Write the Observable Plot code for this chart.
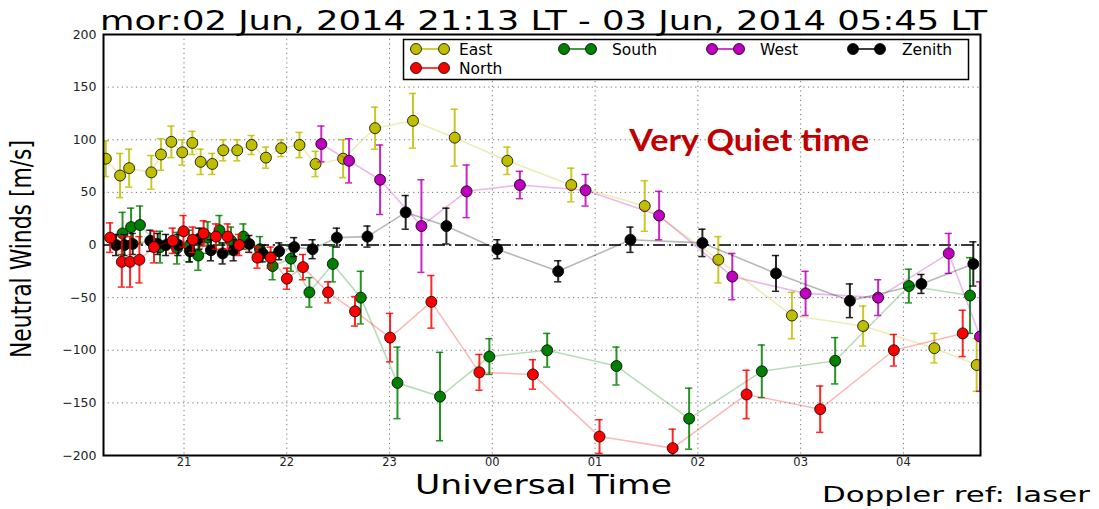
<!DOCTYPE html>
<html>
<head>
<meta charset="utf-8">
<script src="https://cdn.jsdelivr.net/npm/d3@7"></script>
<script src="https://cdn.jsdelivr.net/npm/@observablehq/plot@0.6"></script>
<style>
  html, body { margin: 0; padding: 0; background: #fff; }
  #wrap { position: relative; width: 1099px; height: 509px; overflow: hidden; font-family: "DejaVu Sans", sans-serif; color: #000; background: #fff; }
  #chart { position: absolute; left: 0; top: 0; }
  .lbl { position: absolute; white-space: nowrap; line-height: 0.8; transform-origin: 0 0; }
  #legend { position: absolute; left: 0; top: 0; }
</style>
</head>
<body>
<div id="wrap">
  <div id="chart"></div>
  <svg id="legend" width="1099" height="509"></svg>
  <div class="lbl" id="title">mor:02 Jun, 2014 21:13 LT - 03 Jun, 2014 05:45 LT</div>
  <div class="lbl" id="ylabel">Neutral Winds [m/s]</div>
  <div class="lbl" id="xlabel">Universal Time</div>
  <div class="lbl" id="caption">Doppler ref: laser</div>
</div>
<script>
// ---------- data (UT hours; values after midnight continue past 24) ----------
const seriesNames  = ["East", "South", "West", "Zenith", "North"];
const seriesColors = ["#bfbf00", "#008000", "#bf00bf", "#000000", "#ff0000"];

const eastT = [20.239, 20.378, 20.466, 20.682, 20.776, 20.877, 20.983, 21.081, 21.162, 21.275, 21.382, 21.518, 21.658, 21.797, 21.946, 22.124, 22.280, 22.548, 22.859, 23.228, 23.634, 24.146, 24.768, 25.483, 26.199, 26.915, 27.608, 28.301, 28.713];
const eastV = [82, 66, 73, 69, 86, 98, 88, 97, 79, 77, 90, 90, 95, 83, 92, 95, 77, 82, 111, 118, 102, 80, 57, 37, -14, -67, -77, -98, -114];
const eastE = [17, 21, 18, 16, 15, 15, 12, 11, 12, 10, 10, 10, 9, 10, 8, 12, 12, 18, 20, 26, 27, 13, 16, 24, 22, 22, 19, 14, 25];

const southT = [20.402, 20.485, 20.572, 20.767, 20.932, 21.049, 21.139, 21.230, 21.345, 21.457, 21.578, 21.739, 21.862, 22.040, 22.220, 22.448, 22.720, 23.077, 23.491, 23.971, 24.534, 25.208, 25.915, 26.622, 27.336, 28.053, 28.648];
const southV = [11, 17, 19, -2, -3, -1, -10, 7, 14, 4, 8, -4, -20, -13, -45, -18, -50, -131, -144, -106, -100, -115, -165, -120, -110, -39, -48];
const southE = [20, 18, 18, 15, 15, 15, 14, 15, 14, 13, 12, 12, 13, 12, 14, 17, 25, 34, 42, 17, 16, 18, 29, 25, 22, 16, 36];

const westT = [22.336, 22.606, 22.908, 23.310, 23.750, 24.268, 24.907, 25.623, 26.335, 27.048, 27.754, 28.441, 28.745];
const westV = [96, 80, 62, 18, 51, 57, 52, 28, -30, -46, -50, -8, -87];
const westE = [17, 21, 33, 44, 25, 13, 15, 23, 22, 21, 17, 19, 52];

const zenithT = [20.339, 20.420, 20.501, 20.672, 20.744, 20.825, 20.945, 21.058, 21.149, 21.262, 21.376, 21.483, 21.635, 21.765, 21.926, 22.072, 22.251, 22.487, 22.785, 23.157, 23.553, 24.049, 24.641, 25.344, 26.044, 26.760, 27.479, 28.175, 28.680];
const zenithV = [0, 0, 1, 4, 1, 0, 0, -6, 6, -5, -8, -5, 1, -8, -6, -2, -4, 7, 8, 31, 18, -4, -25, 5, 2, -27, -53, -37, -18];
const zenithE = [10, 10, 10, 10, 10, 10, 10, 10, 10, 10, 10, 10, 8, 8, 8, 9, 9, 9, 10, 16, 17, 9, 10, 12, 13, 17, 16, 9, 21];

const northT = [20.281, 20.395, 20.475, 20.566, 20.708, 20.890, 20.995, 21.085, 21.191, 21.311, 21.425, 21.537, 21.714, 21.843, 22.001, 22.158, 22.402, 22.664, 23.005, 23.407, 23.874, 24.395, 25.043, 25.755, 26.474, 27.190, 27.907, 28.577];
const northV = [7, -16, -16, -14, -2, 4, 13, 5, 11, 8, 8, 0, -12, -12, -32, -21, -45, -63, -88, -54, -121, -123, -182, -193, -142, -156, -100, -84];
const northE = [14, 24, 24, 22, 15, 12, 15, 12, 12, 12, 12, 10, 10, 10, 10, 12, 10, 14, 23, 25, 17, 14, 16, 18, 23, 22, 15, 22];

const xTicks = [21, 22, 23, 24, 25, 26, 27, 28];
const yTicks = [-200, -150, -100, -50, 0, 50, 100, 150, 200];
const xDomain = [20.2167, 28.75];   // 20:13 UT .. 04:45 UT
const yDomain = [-200, 200];
const annotation = [{t: 26.5, v: 99, label: "Very Quiet time"}];

// ---------- build rows ----------
const seriesData = {
  East:   [eastT, eastV, eastE],
  South:  [southT, southV, southE],
  West:   [westT, westV, westE],
  Zenith: [zenithT, zenithV, zenithE],
  North:  [northT, northV, northE]
};
const rows = [];
for (const s of seriesNames) {
  const [T, V, E] = seriesData[s];
  T.forEach((t, i) => rows.push({series: s, t, v: V[i], e: E[i]}));
}

const capW = 0.035;
const seriesMarks = [];
seriesNames.forEach((s, k) => {
  const c = seriesColors[k];
  const f = d => d.series === s;
  seriesMarks.push(
    Plot.line(rows, {filter: f, x: "t", y: "v", stroke: c, strokeOpacity: 0.28, strokeWidth: 1.6, clip: true}),
    Plot.ruleX(rows, {filter: f, x: "t", y1: d => d.v - d.e, y2: d => d.v + d.e, stroke: c, strokeOpacity: 0.85, strokeWidth: 2, clip: true}),
    Plot.ruleY(rows, {filter: f, y: d => d.v + d.e, x1: d => d.t - capW, x2: d => d.t + capW, stroke: c, strokeOpacity: 0.85, strokeWidth: 1.5, clip: true}),
    Plot.ruleY(rows, {filter: f, y: d => d.v - d.e, x1: d => d.t - capW, x2: d => d.t + capW, stroke: c, strokeOpacity: 0.85, strokeWidth: 1.5, clip: true}),
    Plot.dot(rows, {filter: f, x: "t", y: "v", r: 5.5, fill: c, stroke: "#000", strokeWidth: 0.8, clip: true})
  );
});

const minus = d => d < 0 ? "\u2212" + (-d) : String(d);

const chart = Plot.plot({
  width: 1099,
  height: 509,
  marginLeft: 103,
  marginRight: 119,
  marginTop: 34,
  marginBottom: 54,
  style: {fontFamily: "DejaVu Sans, sans-serif", fontSize: "12px", background: "transparent", color: "#222"},
  x: {domain: xDomain, label: null},
  y: {domain: yDomain, label: null},
  marks: [
    Plot.gridX(xTicks, {stroke: "#666", strokeOpacity: 0.9, strokeDasharray: "1.2,3.5", strokeWidth: 1}),
    Plot.gridY(yTicks, {stroke: "#666", strokeOpacity: 0.9, strokeDasharray: "1.2,3.5", strokeWidth: 1}),
    Plot.ruleY([0], {stroke: "#3a3a3a", strokeWidth: 2, strokeDasharray: "12,4,2,4"}),
    ...seriesMarks,
    Plot.text(annotation, {x: "t", y: "v", text: "label", fill: "#c00000", fontSize: 31, fontWeight: "bold", fontFamily: "Lato, sans-serif"}),
    Plot.frame({stroke: "#000", strokeWidth: 2}),
    Plot.axisX(xTicks, {tickSize: 0, tickPadding: 2, fontSize: 11.5, tickFormat: d => String(d % 24).padStart(2, "0"), label: null}),
    Plot.axisY(yTicks, {tickSize: 0, tickPadding: 7, fontSize: 12.5, tickFormat: minus, label: null})
  ]
});
chart.classList.add("plot");
document.getElementById("chart").appendChild(chart);

// stretch the annotation text to its width in the reference
chart.querySelectorAll("text").forEach(t => {
  if (t.textContent === "Very Quiet time") {
    t.setAttribute("textLength", 240);
    t.setAttribute("lengthAdjust", "spacingAndGlyphs");
  }
});

// ---------- legend ----------
const legendItems = [
  {name: "East",   color: seriesColors[0], m1: 416, m2: 444, tx: 459, row: 0},
  {name: "South",  color: seriesColors[1], m1: 564, m2: 591, tx: 612, row: 0},
  {name: "West",   color: seriesColors[2], m1: 712, m2: 739, tx: 760, row: 0},
  {name: "Zenith", color: seriesColors[3], m1: 853, m2: 880, tx: 902, row: 0},
  {name: "North",  color: seriesColors[4], m1: 416, m2: 444, tx: 459, row: 1}
];
const rowY = [49, 68];
const lg = d3.select("#legend");
lg.append("rect").attr("x", 403.5).attr("y", 39.5).attr("width", 565).attr("height", 40)
  .attr("fill", "#fff").attr("stroke", "#000").attr("stroke-width", 1.5);
for (const it of legendItems) {
  const y = rowY[it.row];
  lg.append("line").attr("x1", it.m1).attr("x2", it.m2).attr("y1", y).attr("y2", y)
    .attr("stroke", it.color).attr("stroke-width", 1.5);
  for (const mx of [it.m1, it.m2]) {
    lg.append("circle").attr("cx", mx).attr("cy", y).attr("r", 5.5)
      .attr("fill", it.color).attr("stroke", "#000").attr("stroke-width", 0.8);
  }
  lg.append("text").attr("x", it.tx).attr("y", y).attr("dy", "0.36em")
    .attr("font-family", "DejaVu Sans, sans-serif").attr("font-size", 15.5).attr("fill", "#000")
    .text(it.name);
}

// ---------- HTML labels fitted to the reference extents ----------
// baseline = top + 0.746 * fontSize (line-height 0.8 for DejaVu Sans)
function fitH(id, left, baseline, fontSize, targetW) {
  const el = document.getElementById(id);
  el.style.fontSize = fontSize + "px";
  el.style.left = left + "px";
  el.style.top = (baseline - 0.746 * fontSize) + "px";
  const w = el.getBoundingClientRect().width;
  el.style.transform = `scaleX(${targetW / w})`;
}
fitH("title", 100, 30, 27, 887);
fitH("xlabel", 415, 494, 27, 257);
fitH("caption", 822, 502, 22, 268);

(function () {
  const el = document.getElementById("ylabel");
  el.style.fontSize = "28px";
  const w = el.getBoundingClientRect().width;
  el.style.left = "11px";
  el.style.top = "358px";
  el.style.transform = `rotate(-90deg) scaleX(${218 / w})`;
})();
</script>
</body>
</html>
